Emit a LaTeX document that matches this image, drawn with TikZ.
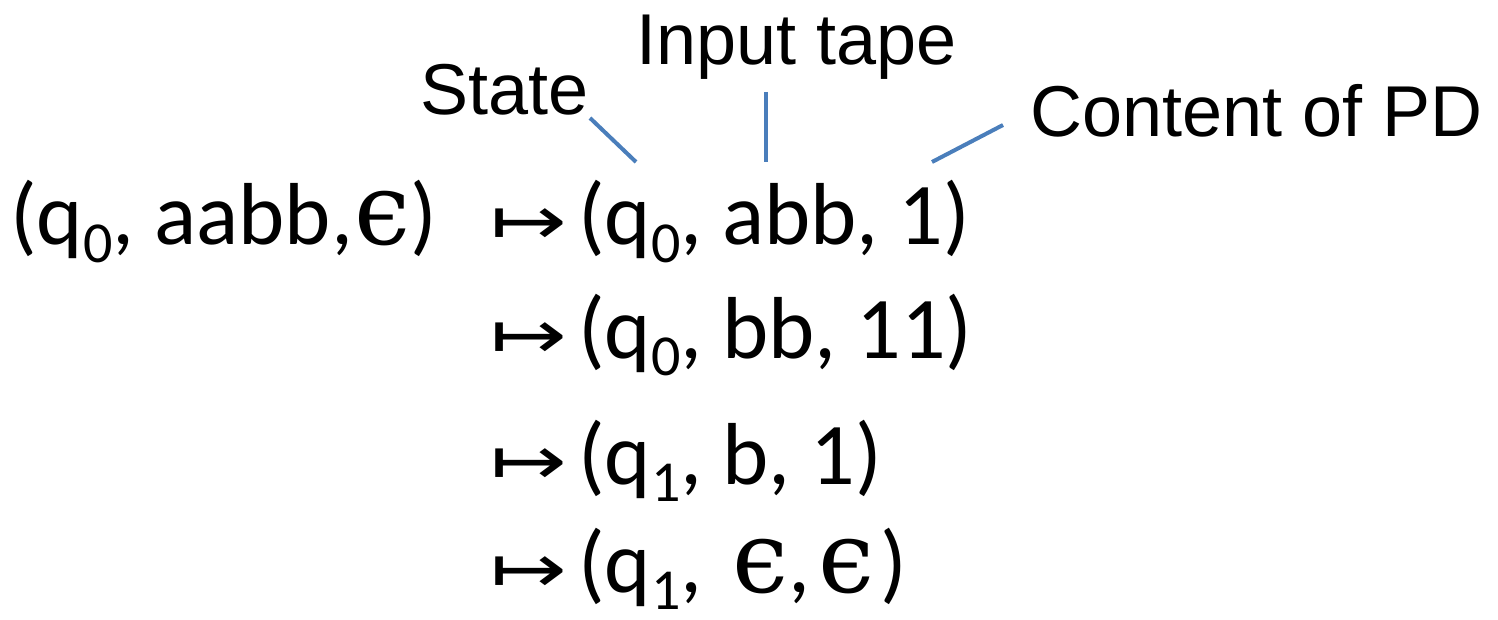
\documentclass[tikz,border=0pt]{standalone}
\usepackage{fontspec}
\setmainfont{Carlito}
\newfontfamily\labelfont{Liberation Sans}
\newfontfamily\symfont{DejaVu Sans}
\newfontfamily\epsfont{DejaVu Serif}
\definecolor{leader}{HTML}{4A7EBB}
% subscript index, empty-string symbol and the yields arrow
\newcommand{\idx}[1]{\raisebox{-0.2em}{\fontsize{58}{60}\selectfont #1}}
\newcommand{\eps}{{\epsfont\fontsize{100}{110}\selectfont\char"03F5}}
\newcommand{\yields}{\scalebox{1.35}[1]{\symfont\char"21A6}}
\tikzset{
  config/.style={anchor=base west, inner sep=0pt, font=\fontsize{88}{100}\selectfont},
  arrowsym/.style={anchor=base west, inner sep=0pt, font=\fontsize{68}{80}\selectfont},
  caption/.style={anchor=base west, inner sep=0pt, font=\labelfont\fontsize{72}{80}\selectfont},
  leaderline/.style={draw=leader, line width=4pt}
}
\begin{document}
\begin{tikzpicture}[x=1pt,y=-1pt]
\useasboundingbox (0,0) rectangle (1498,620);

% labels
\node[caption] (state) at (420,115) {State};
\node[caption] (input) at (636,65) {Input tape};
\node[caption] (content) at (1030,137) {Content of PD};

% configurations
\node[config] (c0) at (10,245) {(q\idx{0}, aabb,\kern1pt\eps)};
\node[arrowsym] (y1) at (490,245) {\yields};
\node[config] (c1) at (578,245) {(q\idx{0}, abb, 1)};
\node[arrowsym] (y2) at (490,358) {\yields};
\node[config] (c2) at (578,358) {(q\idx{0}, bb, 11)};
\node[arrowsym] (y3) at (490,484) {\yields};
\node[config] (c3) at (578,484) {(q\idx{1}, b, 1)};
\node[arrowsym] (y4) at (490,592) {\yields};
\node[config] (c4) at (578,592) {(q\idx{1}, \kern10pt\eps,\kern8pt\eps\kern6pt)};

% leader lines from the labels to the parts of the configuration
\coordinate (stateA) at (590,118);
\coordinate (stateB) at (636,162);
\coordinate (inputA) at (766,92);
\coordinate (inputB) at (766,162);
\coordinate (contentA) at (1003,125);
\coordinate (contentB) at (932,162);
\draw[leaderline] (stateA) -- (stateB);
\draw[leaderline] (inputA) -- (inputB);
\draw[leaderline] (contentA) -- (contentB);
\end{tikzpicture}
\end{document}
